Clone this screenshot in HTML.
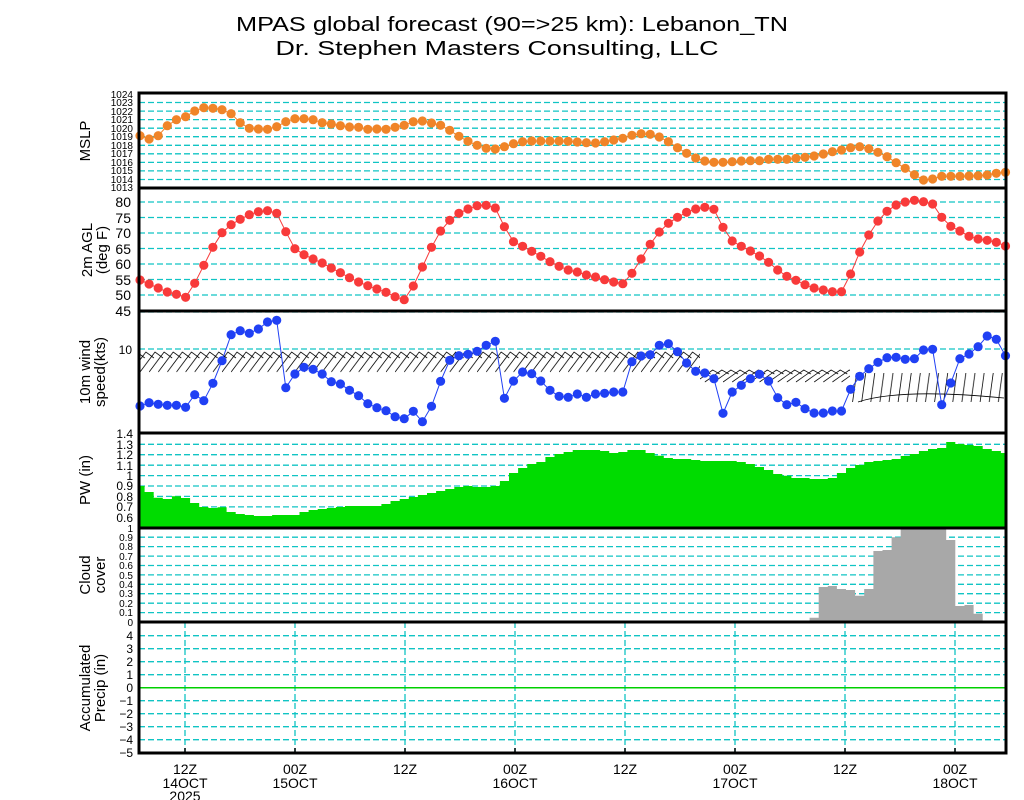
<!DOCTYPE html>
<html><head><meta charset="utf-8"><style>
html,body{margin:0;padding:0;background:#fff;width:1024px;height:800px;overflow:hidden}
svg{display:block;font-family:"Liberation Sans",sans-serif}
.g{stroke:#10c4c4;stroke-width:1.3;stroke-dasharray:6,3;fill:none}
.t{font-size:14px;fill:#000;text-anchor:end}
.s{font-size:10px;fill:#000;text-anchor:end}
.p{font-size:12px;fill:#000;text-anchor:end}
.yl{font-size:15px;fill:#000;text-anchor:middle}
.xl{font-size:14px;fill:#000;text-anchor:middle}
</style></head><body>
<svg width="1024" height="800" viewBox="0 0 1024 800">
<defs>
<marker id="mo" markerUnits="userSpaceOnUse" markerWidth="12" markerHeight="12" refX="6" refY="6"><circle cx="6" cy="6" r="4.6" fill="#f08428"/></marker>
<marker id="mr" markerUnits="userSpaceOnUse" markerWidth="12" markerHeight="12" refX="6" refY="6"><circle cx="6" cy="6" r="4.6" fill="#f83a3a"/></marker>
<marker id="mb" markerUnits="userSpaceOnUse" markerWidth="12" markerHeight="12" refX="6" refY="6"><circle cx="6" cy="6" r="4.6" fill="#2040f4"/></marker>
<pattern id="bA" patternUnits="userSpaceOnUse" x="140" y="350" width="9.11" height="24">
<path d="M0,22 L15,2 L23,8 M-9.11,22 L5.89,2 L13.89,8 M-18.22,22 L-3.22,2 L4.78,8" stroke="#000" stroke-width="0.8" fill="none"/>
</pattern>
<pattern id="bB" patternUnits="userSpaceOnUse" x="140" y="362" width="9.11" height="24">
<path d="M0,20 L17,8 L24,12 M-9.11,20 L7.89,8 L14.89,12 M-18.22,20 L-1.22,8 L5.78,12" stroke="#000" stroke-width="0.8" fill="none"/>
</pattern>
<pattern id="bC" patternUnits="userSpaceOnUse" x="140" y="372" width="9.11" height="32">
<path d="M2,30 L6,1 M-7.11,30 L-3.11,1 M11.11,30 L15.11,1" stroke="#000" stroke-width="0.8" fill="none"/>
</pattern>
</defs>

<text x="512" y="31" font-size="20" text-anchor="middle" textLength="552" lengthAdjust="spacingAndGlyphs">MPAS global forecast (90=&gt;25 km): Lebanon_TN</text>
<text x="497" y="55" font-size="20" text-anchor="middle" textLength="443" lengthAdjust="spacingAndGlyphs">Dr. Stephen Masters Consulting, LLC</text>

<!-- MSLP grid -->
<g class="g"><path d="M139,179.5H1006M139,170.9H1006M139,162.4H1006M139,153.8H1006M139,145.3H1006M139,136.7H1006M139,128.2H1006M139,119.6H1006M139,111.1H1006M139,102.5H1006"/></g>
<g class="s">
<text x="133" y="191">1013</text><text x="133" y="183">1014</text><text x="133" y="174">1015</text><text x="133" y="166">1016</text><text x="133" y="157">1017</text><text x="133" y="149">1018</text><text x="133" y="140">1019</text><text x="133" y="132">1020</text><text x="133" y="123">1021</text><text x="133" y="115">1022</text><text x="133" y="106">1023</text><text x="133" y="98">1024</text>
</g>
<!-- Temp grid -->
<g class="g"><path d="M139,295H1006M139,279.5H1006M139,264H1006M139,248.5H1006M139,233H1006M139,217.5H1006M139,202H1006"/></g>
<g class="t">
<text x="131" y="316">45</text><text x="131" y="300">50</text><text x="131" y="285">55</text><text x="131" y="269">60</text><text x="131" y="254">65</text><text x="131" y="238">70</text><text x="131" y="223">75</text><text x="131" y="207">80</text>
</g>
<!-- wind grid -->
<g class="g"><path d="M139,349H1006M139,312H1006"/></g>
<text class="p" x="132" y="354">10</text>
<!-- PW grid -->
<g class="g"><path d="M139,517.3H1006M139,506.9H1006M139,496.4H1006M139,486H1006M139,475.6H1006M139,465.2H1006M139,454.7H1006M139,444.3H1006"/></g>
<g class="p">
<text x="133" y="522">0.6</text><text x="133" y="511">0.7</text><text x="133" y="501">0.8</text><text x="133" y="490">0.9</text><text x="133" y="480">1</text><text x="133" y="470">1.1</text><text x="133" y="459">1.2</text><text x="133" y="449">1.3</text><text x="133" y="438">1.4</text>
</g>
<!-- Cloud grid -->
<g class="g"><path d="M139,612.6H1006M139,603.2H1006M139,593.7H1006M139,584.3H1006M139,574.9H1006M139,565.5H1006M139,556.1H1006M139,546.6H1006M139,537.2H1006"/></g>
<g class="s">
<text x="133" y="626">0</text><text x="133" y="616">0.1</text><text x="133" y="607">0.2</text><text x="133" y="597">0.3</text><text x="133" y="588">0.4</text><text x="133" y="579">0.5</text><text x="133" y="569">0.6</text><text x="133" y="560">0.7</text><text x="133" y="550">0.8</text><text x="133" y="541">0.9</text><text x="133" y="532">1</text>
</g>
<!-- Precip grid -->
<g class="g"><path d="M139,635.7H1006M139,648.7H1006M139,661.7H1006M139,674.7H1006M139,700.7H1006M139,713.7H1006M139,726.7H1006M139,739.7H1006M185,622V753M295,622V753M405,622V753M515,622V753M625,622V753M735,622V753M845,622V753M955,622V753"/></g>
<path d="M139,687.7H1006" stroke="#00d000" stroke-width="1.5"/>
<g class="p">
<text x="133" y="640">4</text><text x="133" y="653">3</text><text x="133" y="666">2</text><text x="133" y="679">1</text><text x="133" y="692">0</text><text x="133" y="705">−1</text><text x="133" y="718">−2</text><text x="133" y="731">−3</text><text x="133" y="744">−4</text><text x="133" y="757">−5</text>
</g>

<!-- PW bars -->
<path fill="#00dc00" d="M139,528 V486 H144.6 V492 H153.7 V497.7 H162.8 V499 H171.9 V496.3 H181 V498 H190.1 V503 H199.2 V507 H208.4 V508 H217.5 V507.3 H226.6 V512 H235.7 V514 H244.8 V515 H253.9 V516 H263 V516 H272.1 V515 H281.2 V515 H290.3 V515 H299.5 V512 H308.6 V510 H317.7 V509 H326.8 V508 H335.9 V507 H345 V506 H354.1 V506 H363.2 V506 H372.3 V506 H381.4 V504 H390.5 V501 H399.7 V499 H408.8 V497 H417.9 V495 H427 V493 H436.1 V491 H445.2 V489 H454.3 V487 H463.4 V486 H472.5 V487 H481.6 V487 H490.8 V486 H499.9 V481 H509 V473 H518.1 V468 H527.2 V464 H536.3 V462 H545.4 V457 H554.5 V454 H563.6 V452 H572.7 V450 H581.8 V450 H591 V450 H600.1 V451 H609.2 V453 H618.3 V452 H627.4 V450 H636.5 V450 H645.6 V453 H654.7 V455.7 H663.8 V458 H672.9 V459 H682.1 V459 H691.2 V460 H700.3 V461 H709.4 V461 H718.5 V461 H727.6 V461 H736.7 V462 H745.8 V464 H754.9 V467 H764 V470 H773.2 V474 H782.3 V475.7 H791.4 V478 H800.5 V478 H809.6 V479 H818.7 V479 H827.8 V478 H836.9 V473 H846 V468 H855.1 V465 H864.2 V462 H873.4 V461 H882.5 V460 H891.6 V459 H900.7 V456 H909.8 V454 H918.9 V451 H928 V449 H937.1 V448 H946.2 V442 H955.3 V444 H964.5 V445 H973.6 V446 H982.7 V449 H991.8 V451 H1000.9 V453 H1006 V528 Z"/>
<!-- Cloud bars -->
<path fill="#a8a8a8" d="M809.6,622 V617.7 H818.7 V587 H827.8 V586 H836.9 V589 H846 V590 H855.1 V595.7 H864.2 V589 H873.4 V551 H882.5 V550 H891.6 V537.3 H900.7 V528 H946.2 V540 H955.3 V606 H964.5 V605 H973.6 V613.7 H982.7 V622 Z"/>

<!-- wind barbs -->
<rect x="140" y="350" width="560" height="24" fill="url(#bA)"/>
<rect x="700" y="362" width="150" height="24" fill="url(#bB)"/>
<rect x="850" y="372" width="155" height="32" fill="url(#bC)"/>
<path d="M858,402 Q900,388 1004,398" stroke="#000" stroke-width="0.8" fill="none"/>

<!-- MSLP -->
<polyline fill="none" stroke="#f08428" stroke-width="1" marker-start="url(#mo)" marker-mid="url(#mo)" marker-end="url(#mo)" points="140,135.7 149.1,139 158.2,135.7 167.3,125.7 176.4,119.7 185.6,116.7 194.7,111 203.8,107.7 212.9,108.3 222,109.7 231.1,113.7 240.2,122.7 249.3,128.3 258.4,129 267.5,129.3 276.7,126.7 285.8,121.7 294.9,118.7 304,118.7 313.1,119.7 322.2,122.7 331.3,124 340.4,125.7 349.5,127 358.6,127.3 367.8,129.3 376.9,129 386,129.3 395.1,127.3 404.2,125.3 413.3,121.7 422.4,121 431.5,123 440.6,125.3 449.7,130.3 458.9,136.3 468,141.3 477.1,145.3 486.2,148.3 495.3,149 504.4,146.7 513.5,143.7 522.6,141.7 531.7,141 540.8,141 550,141 559.1,141 568.2,141.3 577.3,142 586.4,142.7 595.5,143 604.6,141.7 613.7,140 622.8,138.3 631.9,135.3 641.1,133.7 650.2,134.3 659.3,137 668.4,141.7 677.5,147.7 686.6,153.3 695.7,158 704.8,161 713.9,162.3 723,162.3 732.2,161.7 741.3,161 750.4,160.7 759.5,160.7 768.6,159.3 777.7,159.3 786.8,159.3 795.9,158.3 805,157.3 814.1,156 823.3,154 832.4,151.7 841.5,150 850.6,147.7 859.7,146.7 868.8,148.7 877.9,152.3 887,156.7 896.1,162.7 905.2,168.3 914.4,174.7 923.5,180 932.6,179 941.7,176.3 950.8,176.3 959.9,176.3 969,176 978.1,175.7 987.2,175 996.3,173.3 1005.5,172.3"/>
<!-- Temp -->
<polyline fill="none" stroke="#f83a3a" stroke-width="1" marker-start="url(#mr)" marker-mid="url(#mr)" marker-end="url(#mr)" points="140,280 149.1,284 158.2,288 167.3,292 176.4,294.3 185.6,297.3 194.7,283.3 203.8,265.3 212.9,247.3 222,232.7 231.1,224.7 240.2,219.3 249.3,214.7 258.4,211.7 267.5,210.7 276.7,213.3 285.8,231.7 294.9,248.7 304,254.7 313.1,259 322.2,263 331.3,268 340.4,272.7 349.5,277.7 358.6,282 367.8,285.7 376.9,289 386,292.3 395.1,296.7 404.2,299.7 413.3,286 422.4,267 431.5,247.3 440.6,231 449.7,220.3 458.9,213.3 468,209 477.1,205.7 486.2,205.3 495.3,208 504.4,226.7 513.5,241.7 522.6,246.3 531.7,251.3 540.8,256.3 550,261.7 559.1,266.3 568.2,270 577.3,272 586.4,275 595.5,277 604.6,279.7 613.7,282 622.8,283.7 631.9,273.3 641.1,259 650.2,244.3 659.3,232 668.4,223.3 677.5,217.3 686.6,212.3 695.7,209 704.8,207.3 713.9,209.3 723,227.3 732.2,241 741.3,246.3 750.4,251 759.5,256 768.6,262.3 777.7,270 786.8,276.3 795.9,280.3 805,284.7 814.1,288 823.3,290 832.4,291.7 841.5,291.7 850.6,274 859.7,252 868.8,235 877.9,221 887,211.3 896.1,205 905.2,202 914.4,200.3 923.5,201.7 932.6,204 941.7,217.3 950.8,226.3 959.9,231 969,236.3 978.1,239 987.2,240.3 996.3,242.3 1005.5,246"/>
<!-- Wind -->
<polyline fill="none" stroke="#2040f4" stroke-width="1" marker-start="url(#mb)" marker-mid="url(#mb)" marker-end="url(#mb)" points="140,406 149.1,402.7 158.2,404.3 167.3,405.3 176.4,405.3 185.6,407.3 194.7,394.7 203.8,400.7 212.9,383.3 222,360.7 231.1,334.7 240.2,330.7 249.3,333.3 258.4,329 267.5,322 276.7,320.3 285.8,387.7 294.9,374 304,367.3 313.1,369.3 322.2,374 331.3,381.7 340.4,384 349.5,390.3 358.6,395.7 367.8,403.7 376.9,407.7 386,410.7 395.1,416.7 404.2,418.7 413.3,411.3 422.4,421.7 431.5,406.3 440.6,381.3 449.7,360.3 458.9,355.7 468,354.3 477.1,351.3 486.2,345.3 495.3,341.3 504.4,398.3 513.5,381 522.6,372 531.7,373.7 540.8,381 550,390.3 559.1,396.3 568.2,397.3 577.3,394 586.4,397.3 595.5,394 604.6,393.3 613.7,392 622.8,392 631.9,361.7 641.1,356 650.2,354.7 659.3,345.3 668.4,343.7 677.5,351.7 686.6,363 695.7,371.3 704.8,373 713.9,378.7 723,413.3 732.2,392 741.3,385.3 750.4,378.7 759.5,374.3 768.6,381 777.7,397.7 786.8,404.7 795.9,402.3 805,408.7 814.1,413 823.3,413 832.4,411 841.5,411 850.6,389.3 859.7,376.3 868.8,368.7 877.9,362.3 887,357.7 896.1,357.3 905.2,359.3 914.4,358.7 923.5,350 932.6,349.3 941.7,404.7 950.8,383 959.9,358.7 969,354 978.1,346.7 987.2,336 996.3,339.3 1005.5,355.7"/>

<!-- frames -->
<g stroke="#000" stroke-width="3" fill="none">
<rect x="139" y="93" width="867" height="660"/>
<path d="M139,188H1006M139,311H1006M139,433H1006M139,528H1006M139,622H1006"/>
</g>
<g stroke="#000" stroke-width="1.5">
<path d="M185,753v-5M295,753v-5M405,753v-5M515,753v-5M625,753v-5M735,753v-5M845,753v-5M955,753v-5"/>
</g>

<!-- y labels -->
<text class="yl" transform="translate(90,141) rotate(-90)">MSLP</text>
<text class="yl" transform="translate(92,250) rotate(-90)">2m AGL</text>
<text class="yl" transform="translate(107,250) rotate(-90)">(deg F)</text>
<text class="yl" transform="translate(90,372) rotate(-90)">10m wind</text>
<text class="yl" transform="translate(105,372) rotate(-90)">speed(kts)</text>
<text class="yl" transform="translate(90,480) rotate(-90)">PW (in)</text>
<text class="yl" transform="translate(90,575) rotate(-90)">Cloud</text>
<text class="yl" transform="translate(105,575) rotate(-90)">cover</text>
<text class="yl" transform="translate(90,688) rotate(-90)">Accumulated</text>
<text class="yl" transform="translate(105,688) rotate(-90)">Precip (in)</text>

<!-- x labels -->
<g class="xl">
<text x="185" y="774">12Z</text><text x="185" y="788">14OCT</text><text x="185" y="801">2025</text>
<text x="295" y="774">00Z</text><text x="295" y="788">15OCT</text>
<text x="405" y="774">12Z</text>
<text x="515" y="774">00Z</text><text x="515" y="788">16OCT</text>
<text x="625" y="774">12Z</text>
<text x="735" y="774">00Z</text><text x="735" y="788">17OCT</text>
<text x="845" y="774">12Z</text>
<text x="955" y="774">00Z</text><text x="955" y="788">18OCT</text>
</g>
</svg>
</body></html>
